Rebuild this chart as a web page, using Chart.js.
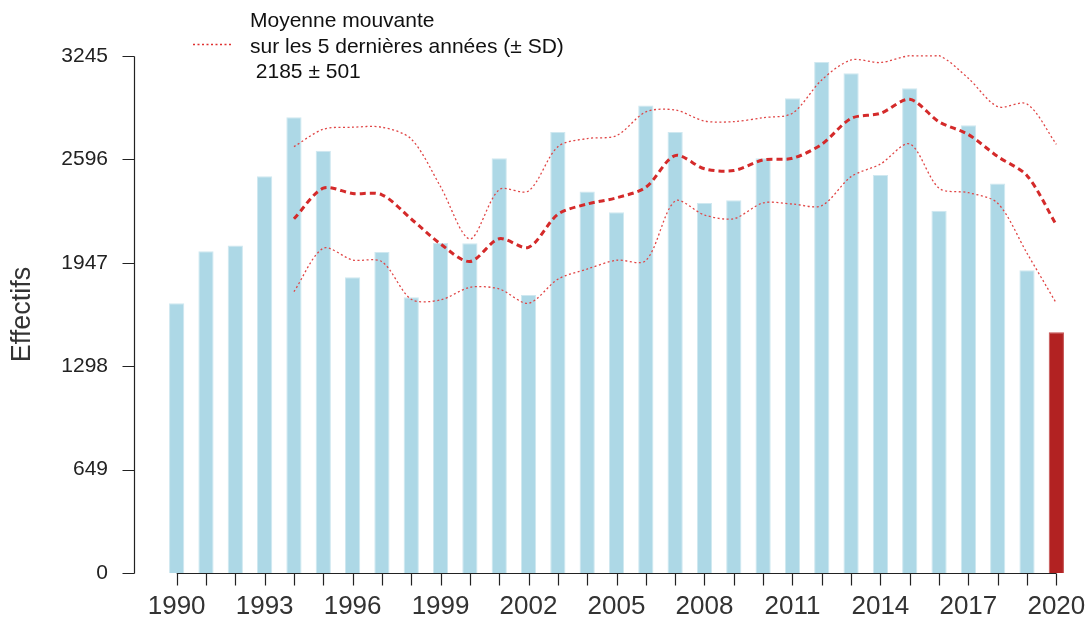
<!DOCTYPE html>
<html>
<head>
<meta charset="utf-8">
<script src="https://cdn.jsdelivr.net/npm/chart.js@4/dist/chart.umd.min.js"></script>
<style>
  html, body { margin: 0; padding: 0; background: #fff; }
  #wrap { width: 1088px; height: 622px; position: relative; }
</style>
</head>
<body>
<div id="wrap"><canvas id="chart" width="1088" height="622"></canvas></div>
<script>
// years and counts
const years = ['1990','1991','1992','1993','1994','1995','1996','1997','1998','1999',
  '2000','2001','2002','2003','2004','2005','2006','2007','2008','2009',
  '2010','2011','2012','2013','2014','2015','2016','2017','2018','2019','2020'];
const counts = [1693, 2019, 2055, 2490, 2860, 2651, 1856, 2015, 1730, 2071,
  2070, 2603, 1745, 2768, 2394, 2264, 2934, 2768, 2323, 2339,
  2603, 2980, 3208, 3137, 2498, 3043, 2274, 2810, 2444, 1900, 1511];
// 5-year moving mean and +/- SD bands
const movMean = [null, null, null, null, 2223, 2415, 2382, 2374, 2222, 2065,
  1955, 2098, 2044, 2251, 2316, 2355, 2421, 2620, 2537, 2526,
  2593, 2603, 2691, 2853, 2885, 2973, 2832, 2752, 2614, 2494, 2185];
const movUpper = [null, null, null, null, 2676, 2785, 2798, 2798, 2724, 2425,
  2097, 2406, 2398, 2676, 2727, 2745, 2894, 2906, 2837, 2833,
  2858, 2886, 3095, 3220, 3204, 3247, 3247, 3105, 2927, 2944, 2691];
const movLower = [null, null, null, null, 1766, 2038, 1965, 1954, 1718, 1714,
  1793, 1783, 1693, 1844, 1908, 1963, 1961, 2335, 2247, 2224,
  2323, 2316, 2306, 2488, 2567, 2693, 2415, 2387, 2321, 2007, 1693];
const yTicks = [0, 649, 1298, 1947, 2596, 3245];
const legendLines = ['Moyenne mouvante', 'sur les 5 dernières années (± SD)', ' 2185 ± 501'];

const FONT = "'Liberation Sans', Arial, Helvetica, sans-serif";
const barColors = counts.map((v, i) => i === counts.length - 1 ? '#B22222' : '#ADD8E6');
const barBorders = counts.map((v, i) => i === counts.length - 1 ? '#C45050' : '#CFE8F0');

// R-style detached axes + legend
const rAxes = {
  id: 'rAxes',
  afterDraw(chart) {
    const ctx = chart.ctx;
    const xs = chart.scales.x, ys = chart.scales.y;
    const axX = 134.5;
    ctx.save();
    ctx.strokeStyle = '#222';
    ctx.lineWidth = 1.2;
    ctx.beginPath();
    ctx.moveTo(axX, Math.round(ys.getPixelForValue(yTicks[0])) + 0.5);
    ctx.lineTo(axX, Math.round(ys.getPixelForValue(yTicks[yTicks.length - 1])) + 0.5);
    yTicks.forEach(t => {
      const y = Math.round(ys.getPixelForValue(t)) + 0.5;
      ctx.moveTo(axX - 12, y);
      ctx.lineTo(axX, y);
    });
    const y0 = Math.round(ys.getPixelForValue(0)) + 0.5;
    ctx.moveTo(xs.getPixelForValue(0), y0);
    ctx.lineTo(xs.getPixelForValue(years.length - 1), y0);
    years.forEach((yr, i) => {
      const x = Math.round(xs.getPixelForValue(i)) + 0.5;
      ctx.moveTo(x, y0);
      ctx.lineTo(x, y0 + 12);
    });
    ctx.stroke();

    // legend
    ctx.strokeStyle = '#E03030';
    ctx.lineWidth = 1.3;
    ctx.setLineDash([2, 2.5]);
    ctx.beginPath();
    ctx.moveTo(193, 44.5);
    ctx.lineTo(232, 44.5);
    ctx.stroke();
    ctx.setLineDash([]);
    ctx.fillStyle = '#111';
    ctx.font = '21px ' + FONT;
    ctx.textBaseline = 'alphabetic';
    ctx.textAlign = 'left';
    legendLines.forEach((s, i) => ctx.fillText(s, 250, 27 + i * 25.5));
    ctx.restore();
  }
};

const ctx = document.getElementById('chart').getContext('2d');
new Chart(ctx, {
  type: 'bar',
  data: {
    labels: years,
    datasets: [
      {
        type: 'line',
        data: movMean,
        borderColor: '#D42A2A',
        borderWidth: 3,
        borderDash: [6, 4],
        pointRadius: 0,
        tension: 0.3,
        fill: false,
        clip: false,
        order: 1
      },
      {
        type: 'line',
        data: movUpper,
        borderColor: '#E04545',
        borderWidth: 1.3,
        borderDash: [2, 2.5],
        pointRadius: 0,
        tension: 0.3,
        fill: false,
        clip: false,
        order: 1
      },
      {
        type: 'line',
        data: movLower,
        borderColor: '#E04545',
        borderWidth: 1.3,
        borderDash: [2, 2.5],
        pointRadius: 0,
        tension: 0.3,
        fill: false,
        clip: false,
        order: 1
      },
      {
        data: counts,
        backgroundColor: barColors,
        borderColor: barBorders,
        borderWidth: 1,
        barPercentage: 1,
        categoryPercentage: 0.52,
        order: 10
      }
    ]
  },
  options: {
    responsive: false,
    animation: false,
    layout: { padding: { top: 56, right: 17, left: 0, bottom: 0 } },
    plugins: { legend: { display: false }, tooltip: { enabled: false } },
    scales: {
      x: {
        grid: { display: false, drawTicks: false },
        border: { display: false },
        afterFit(s) { s.height = 49; s.paddingLeft = 0; s.paddingRight = 0; },
        ticks: {
          autoSkip: false,
          maxRotation: 0,
          padding: 18,
          color: '#333',
          font: { family: FONT, size: 26 },
          callback: (v, i) => (i % 3 === 0 ? years[i] : '')
        }
      },
      y: {
        min: 0,
        max: 3245,
        grid: { display: false, drawTicks: false },
        border: { display: false },
        afterFit(s) { s.width = 162; s.paddingTop = 0; s.paddingBottom = 0; },
        afterBuildTicks(s) { s.ticks = yTicks.map(v => ({ value: v })); },
        ticks: {
          padding: 54,
          color: '#222',
          font: { family: FONT, size: 21 },
          callback: v => String(v)
        },
        title: {
          display: true,
          text: 'Effectifs',
          color: '#333',
          font: { family: FONT, size: 27 },
          padding: { top: 6, bottom: 0 }
        }
      }
    }
  },
  plugins: [rAxes]
});
</script>
</body>
</html>
